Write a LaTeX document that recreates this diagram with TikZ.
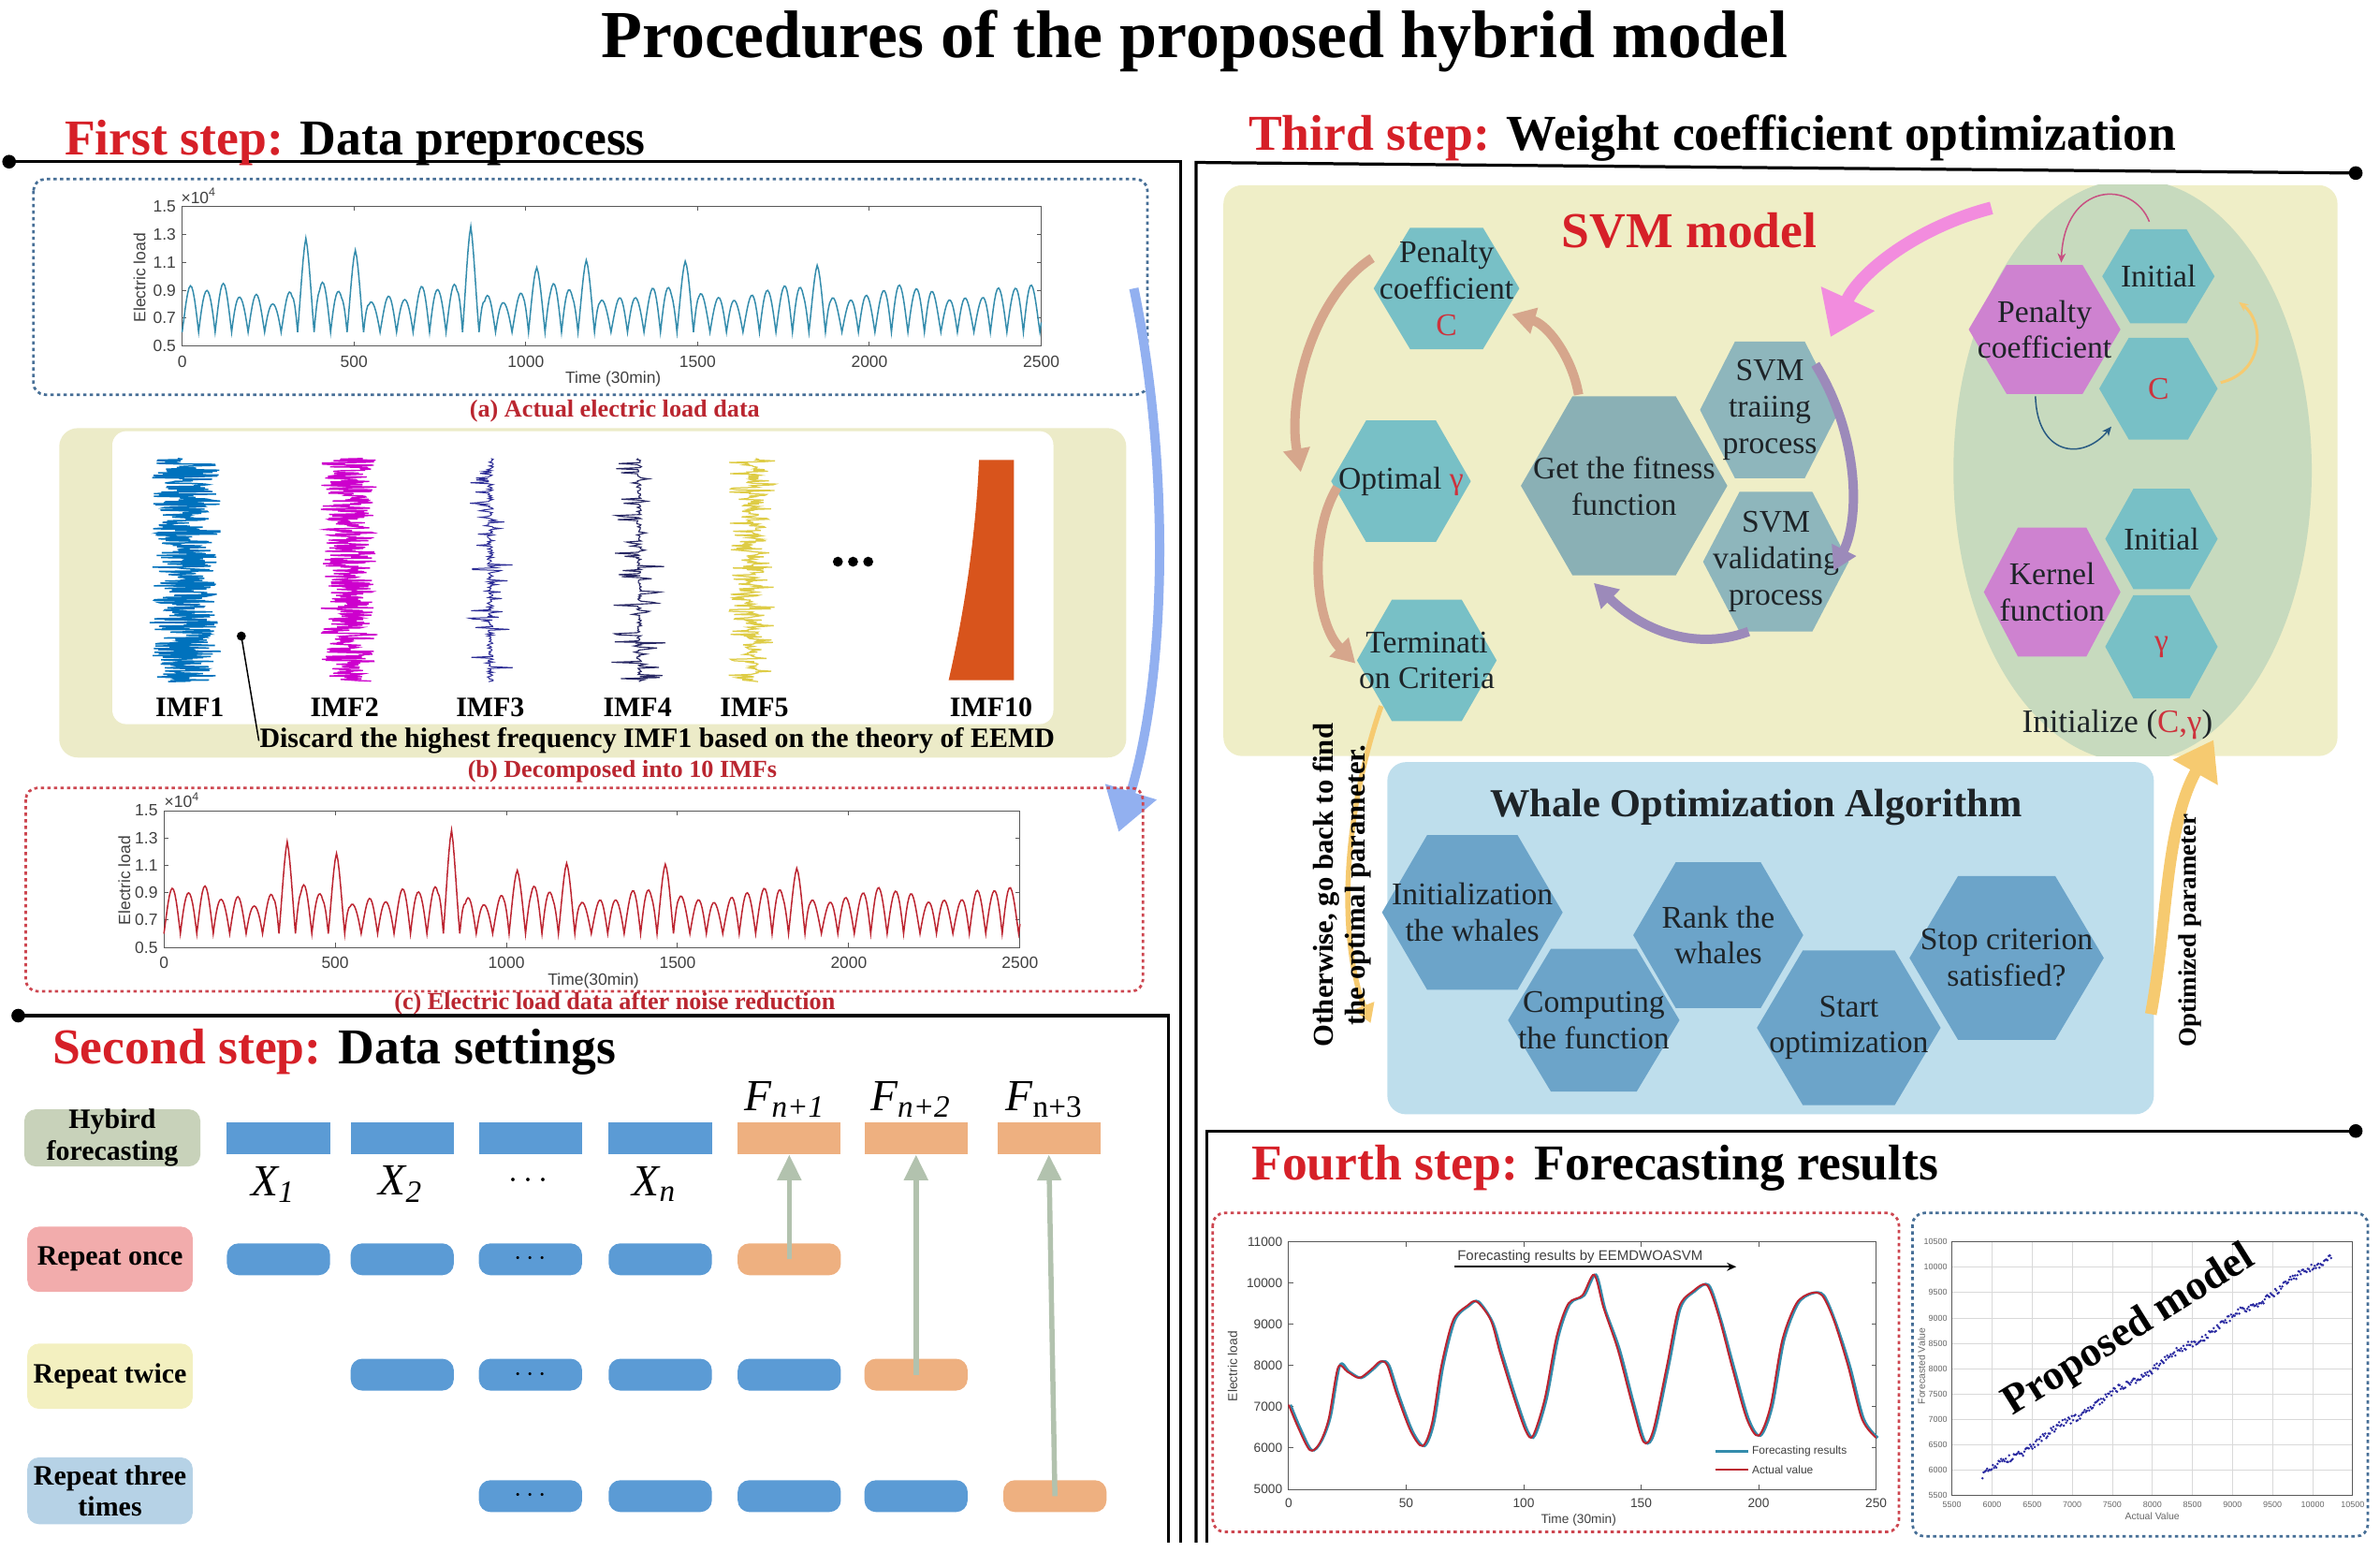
\documentclass[tikz,border=0pt]{standalone}
\usepackage{fontspec}
\setmainfont{Liberation Serif}
\newfontfamily\plotfont{Liberation Sans}
\usetikzlibrary{arrows.meta,calc,positioning}

\definecolor{stepred}{RGB}{214,32,40}
\definecolor{capred}{RGB}{186,38,48}
\definecolor{hexred}{RGB}{205,50,60}
\definecolor{hexink}{RGB}{30,36,40}
\definecolor{loadblue}{RGB}{52,140,172}
\definecolor{loadred}{RGB}{188,36,48}
\definecolor{boxblue}{RGB}{70,110,150}
\definecolor{boxred}{RGB}{205,70,80}
\definecolor{khaki}{RGB}{236,235,200}
\definecolor{svmback}{RGB}{239,238,199}
\definecolor{sage}{RGB}{199,218,190}
\definecolor{tealhex}{RGB}{120,192,198}
\definecolor{greyhex}{RGB}{138,176,181}
\definecolor{svmhex}{RGB}{142,182,188}
\definecolor{pinkhex}{RGB}{206,130,208}
\definecolor{woaback}{RGB}{190,222,236}
\definecolor{woahex}{RGB}{108,164,201}
\definecolor{cellblue}{RGB}{91,155,213}
\definecolor{cellorange}{RGB}{238,176,128}
\definecolor{arrowgrey}{RGB}{178,194,174}
\definecolor{tanarrow}{RGB}{214,166,140}
\definecolor{violetarrow}{RGB}{156,138,186}
\definecolor{pinkarrow}{RGB}{242,140,222}
\definecolor{goldarrow}{RGB}{246,202,112}
\definecolor{skyarrow}{RGB}{146,176,240}
\definecolor{imfone}{RGB}{0,114,189}
\definecolor{imftwo}{RGB}{205,0,205}
\definecolor{imfthree}{RGB}{45,45,150}
\definecolor{imffour}{RGB}{40,40,100}
\definecolor{imffive}{RGB}{222,204,70}
\definecolor{imften}{RGB}{216,84,28}
\definecolor{hybgrey}{RGB}{200,210,186}
\definecolor{oncepink}{RGB}{242,172,172}
\definecolor{twiceyellow}{RGB}{243,240,192}
\definecolor{threeblue}{RGB}{182,210,230}
\definecolor{scatterblue}{RGB}{40,40,160}

\tikzset{every picture/.style={line width=0.75pt}}
\tikzset{
  steptitle/.style={anchor=base west, inner sep=0pt, font=\rmfamily\bfseries\fontsize{21.5}{24}\selectfont},
  caption/.style={inner sep=0pt, text=capred, font=\rmfamily\bfseries\fontsize{10.5}{12}\selectfont},
  dotbox/.style={draw=#1, line width=1.1pt, dash pattern=on 1.4pt off 1.4pt, rounded corners=5pt},
  axisline/.style={draw=black!65, line width=0.4pt},
  tick/.style={inner sep=1pt, text=black!75, font=\plotfont\fontsize{7}{8}\selectfont},
  fctick/.style={inner sep=1pt, text=black!75, font=\plotfont\fontsize{5.5}{6}\selectfont},
  sctick/.style={inner sep=1pt, text=black!60, font=\plotfont\fontsize{3.6}{4}\selectfont},
  hextext/.style={inner sep=0pt, align=center, text=hexink, font=\rmfamily\fontsize{13.5}{15.5}\selectfont},
  rowlabel/.style={rounded corners=5pt, inner sep=0pt, align=center, font=\rmfamily\bfseries\fontsize{12}{13.5}\selectfont},
  cell/.style={minimum width=68*0.65pt, minimum height=21*0.65pt, inner sep=0pt},
  roundcell/.style={cell, rounded corners=5pt, font=\bfseries\fontsize{12}{12}\selectfont},
  serieslabel/.style={inner sep=0pt, font=\rmfamily\itshape\fontsize{19}{20}\selectfont},
  imflabel/.style={inner sep=0pt, font=\rmfamily\bfseries\fontsize{12}{13}\selectfont},
  uparrow/.style={draw=arrowgrey, line width=2.2pt, -{Triangle[length=11pt,width=10pt]}},
  tanflow/.style={draw=tanarrow, line width=4pt, -{Triangle[length=10pt,width=11pt]}},
  violetflow/.style={draw=violetarrow, line width=4pt, -{Triangle[length=10pt,width=11pt]}},
  thinflow/.style={line width=0.6pt, -{Stealth[length=4pt,width=3.5pt]}},
  sepline/.style={line width=1.3pt},
}

\newcommand{\hexcell}[6]{% name, centre, width, height, colour, text
  \path[fill=#5] ($(#2)+(-#3/2,0)$) -- ++(#3/4,-#4/2) -- ++(#3/2,0) -- ++(#3/4,#4/2) -- ++(-#3/4,#4/2) -- ++(-#3/2,0) -- cycle;
  \node[hextext, minimum width=#3*0.65pt, minimum height=#4*0.65pt] (#1) at (#2) {#6};}

\begin{document}
\begin{tikzpicture}[x=0.65pt,y=0.65pt,yscale=-1,
  declare function={bump(\ta,\tb,\tc)=max(0,1-abs(\ta-\tb)/\tc);
    elec(\ta)=0.6+(0.28+0.05*sin(\ta*1.0714)+0.03*sin(\ta*3.7)+0.4*bump(\ta,360,40)+0.28*bump(\ta,504,40)+0.5*bump(\ta,840,40)+0.18*bump(\ta,1032,40)+0.22*bump(\ta,1176,40)+0.18*bump(\ta,1464,40)+0.2*bump(\ta,1848,40))*abs(sin(mod(\ta,48)*3.75));}]
\useasboundingbox (0,0) rectangle (1568,1022);

% Title
\node[anchor=base, inner sep=0pt, font=\bfseries\fontsize{28.8}{32}\selectfont] (title) at (787,38) {Procedures of the proposed hybrid model};

% Section rules
\coordinate (r1a) at (6,106.5); \coordinate (r1b) at (778,106.5); \coordinate (r1c) at (778,1016);
\draw[sepline] (r1a) -- (r1b) -- (r1c);
\fill (r1a) circle (4.5);
\coordinate (r2a) at (12,669); \coordinate (r2b) at (770,669); \coordinate (r2c) at (770,1016);
\draw[sepline] (r2a) -- (r2b) -- (r2c);
\fill (r2a) circle (4.5);
\coordinate (r3a) at (1552,114); \coordinate (r3b) at (788,107); \coordinate (r3c) at (788,1016);
\draw[sepline] (r3a) -- (r3b) -- (r3c);
\fill (r3a) circle (4.5);
\coordinate (r4a) at (1552,745); \coordinate (r4b) at (795,745); \coordinate (r4c) at (795,1016);
\draw[sepline] (r4a) -- (r4b) -- (r4c);
\fill (r4a) circle (4.5);

% Step titles
\node[steptitle] (step1) at (42,102) {\textcolor{stepred}{First step:} Data preprocess};
\node[steptitle] (step2) at (34,701) {\textcolor{stepred}{Second step:} Data settings};
\node[steptitle] (step3) at (822,99) {\textcolor{stepred}{Third step:} Weight coefficient optimization};
\node[steptitle] (step4) at (824,777) {\textcolor{stepred}{Fourth step:} Forecasting results};

%% ---------- First step ----------
% (a) actual load
\draw[dotbox=boxblue] (22,118) rectangle (756,260);
\draw[axisline] (120,136) rectangle (686,228);
\foreach \k/\lab in {0/0,1/500,2/1000,3/1500,4/2000,5/2500}{
  \draw[axisline] ({120+113.2*\k},228) -- ++(0,-3) ({120+113.2*\k},136) -- ++(0,3);
  \node[tick] at ({120+113.2*\k},238) {\lab};}
\foreach \k/\lab in {0/0.5,1/0.7,2/0.9,3/1.1,4/1.3,5/1.5}{
  \draw[axisline] (120,{228-18.4*\k}) -- ++(3,0) (686,{228-18.4*\k}) -- ++(-3,0);
  \node[tick,anchor=east] at (118,{228-18.4*\k}) {\lab};}
\node[tick] (expa) at (131,129) {×10\textsuperscript{4}};
\node[tick, rotate=90] (ylaba) at (92,183) {Electric load};
\node[tick] (xlaba) at (404,250) {Time (30min)};
\begin{scope}[shift={(120,228)},xscale=0.2264,yscale=-92]
  \draw[loadblue, line width=0.6pt] plot[domain=0:2500,samples=626] (\x,{elec(\x)-0.5});
\end{scope}
\node[caption] (capa) at (405,271) {(a) Actual electric load data};

% (b) decomposition
\fill[khaki, rounded corners=8pt] (39,282) rectangle (742,499);
\fill[white, rounded corners=6pt] (74,284) rectangle (694,477);
\pgfmathsetseed{2023}
\draw[imfone, line width=0.6pt] plot[domain=302:449, samples=420] ({122+(15+9*abs(sin(\x*9)))*rand},\x);
\draw[imftwo, line width=0.55pt] plot[domain=302:449, samples=400] ({230+(12+7*abs(sin(\x*11)))*rand},\x);
\draw[imfthree, line width=0.4pt] plot[domain=302:449, samples=240] ({323+(2+13*(rnd>0.82))*rand},\x);
\draw[imffour, line width=0.45pt] plot[domain=302:449, samples=220] ({421+(1.5+17*(rnd>0.8))*rand},\x);
\draw[imffive, line width=0.5pt] plot[domain=302:449, samples=280] ({496+(4+12*(rnd>0.5))*rand},\x);
\fill[imften] (645,303) -- (668,303) -- (668,448) -- (625,448) .. controls (636,400) and (643,350) .. (645,303) -- cycle;
\foreach \dx in {-10,0,10} \fill (562+\dx,370) circle (3.3);
\foreach \n/\xx in {1/125,2/227,3/323,4/420,5/497,10/653}
  \node[imflabel] (imf\n) at (\xx,466) {IMF\n};
\node[inner sep=0pt, font=\bfseries\fontsize{12}{14}\selectfont] (discard) at (433,488) {Discard the highest frequency IMF1 based on the theory of EEMD};
\coordinate (imfdot) at (159,419);
\fill (imfdot) circle (3);
\draw[line width=0.6pt] (imfdot) -- (discard.west);
\node[caption] (capb) at (410,508) {(b) Decomposed into 10 IMFs};

% sweep arrow
\coordinate (sweepa) at (747,190);
\coordinate (sweepb) at (737,548);
\draw[skyarrow, line width=4pt, -{Triangle[length=18pt,width=22pt]}] (sweepa) .. controls (770,300) and (770,440) .. (sweepb);

% (c) denoised load
\draw[dotbox=boxred] (17,519) rectangle (753,653);
\draw[axisline] (108,534) rectangle (672,624);
\foreach \k/\lab in {0/0,1/500,2/1000,3/1500,4/2000,5/2500}{
  \draw[axisline] ({108+112.8*\k},624) -- ++(0,-3) ({108+112.8*\k},534) -- ++(0,3);
  \node[tick] at ({108+112.8*\k},634) {\lab};}
\foreach \k/\lab in {0/0.5,1/0.7,2/0.9,3/1.1,4/1.3,5/1.5}{
  \draw[axisline] (108,{624-18*\k}) -- ++(3,0) (672,{624-18*\k}) -- ++(-3,0);
  \node[tick,anchor=east] at (106,{624-18*\k}) {\lab};}
\node[tick] (expc) at (120,527) {×10\textsuperscript{4}};
\node[tick, rotate=90] (ylabc) at (82,580) {Electric load};
\node[tick] (xlabc) at (391,646) {Time(30min)};
\begin{scope}[shift={(108,624)},xscale=0.2256,yscale=-90]
  \draw[loadred, line width=0.6pt] plot[domain=0:2500,samples=626] (\x,{elec(\x)-0.5});
\end{scope}
\node[caption] (capc) at (405,661) {(c) Electric load data after noise reduction};

%% ---------- Second step ----------
\node[rowlabel, fill=hybgrey, minimum width=116*0.65pt, minimum height=37*0.65pt] (hyb) at (74,749.5) {Hybird\\forecasting};
\node[rowlabel, fill=oncepink, minimum width=109*0.65pt, minimum height=43*0.65pt] (once) at (72.5,829.5) {Repeat once};
\node[rowlabel, fill=twiceyellow, minimum width=109*0.65pt, minimum height=43*0.65pt] (twice) at (72.5,906.5) {Repeat twice};
\node[rowlabel, fill=threeblue, minimum width=109*0.65pt, minimum height=44*0.65pt] (three) at (72.5,982) {Repeat three\\times};

\foreach \c [count=\i] in {183.5,265,349.5,435}
  \node[cell, fill=cellblue] (h\i) at (\c,749.5) {};
\foreach \c [count=\i from 5] in {520,603.5,691}
  \node[cell, fill=cellorange] (h\i) at (\c,749.5) {};
\foreach \c/\t [count=\i] in {183.5/,265/,349.5/$\cdots$,435/}
  \node[roundcell, fill=cellblue] (o\i) at (\c,829.5) {\t};
\node[roundcell, fill=cellorange] (o5) at (520,829.5) {};
\foreach \c/\t [count=\i from 2] in {265/,349.5/$\cdots$,435/,520/}
  \node[roundcell, fill=cellblue] (t\i) at (\c,905.5) {\t};
\node[roundcell, fill=cellorange] (t6) at (603.5,905.5) {};
\foreach \c/\t [count=\i from 3] in {349.5/$\cdots$,435/,520/,603.5/}
  \node[roundcell, fill=cellblue] (q\i) at (\c,985.5) {\t};
\node[roundcell, fill=cellorange] (q7) at (695,985.5) {};

\node[serieslabel] (x1) at (180,780) {X\textsubscript{1}};
\node[serieslabel] (x2) at (264,780) {X\textsubscript{2}};
\node[serieslabel, font=\bfseries\fontsize{14}{14}\selectfont] (xd) at (348,778) {$\cdots$};
\node[serieslabel] (xn) at (431,780) {X\textsubscript{n}};
\node[serieslabel] (f1) at (517,724) {F\textsubscript{n+1}};
\node[serieslabel] (f2) at (600,724) {F\textsubscript{n+2}};
\node[serieslabel] (f3) at (688,724) {F\textsubscript{\upshape n+3}};

\draw[uparrow] (o5.center) -- (h5.south);
\draw[uparrow] (t6.center) -- (h6.south);
\draw[uparrow] (q7.center) -- (h7.south);

%% ---------- Third step ----------
\fill[svmback, rounded corners=8pt] (806,122) rectangle (1540,498);
\begin{scope}
  \clip (806,122) rectangle (1540,498);
  \fill[sage] (1405,310) ellipse [x radius=118, y radius=192];
\end{scope}
\node[inner sep=0pt, text=stepred, font=\bfseries\fontsize{21.5}{24}\selectfont] (svmtitle) at (1113,152) {SVM model};

\hexcell{pen}{953,190}{96}{80}{tealhex}{Penalty\\coefficient\\\textcolor{hexred}{C}}
\hexcell{opt}{923,317}{92}{80}{tealhex}{Optimal \textcolor{hexred}{γ}}
\hexcell{term}{940,435}{92}{80}{tealhex}{Terminati\\on Criteria}
\hexcell{fit}{1070,320}{136}{118}{greyhex}{Get the fitness\\function}
\hexcell{trn}{1166,270}{92}{90}{svmhex}{SVM\\traiing\\process}
\hexcell{val}{1170,370}{96}{92}{svmhex}{SVM\\validating\\process}

\hexcell{epen}{1347,217}{100}{85}{pinkhex}{Penalty\\coefficient}
\hexcell{ini1}{1422,182}{74}{62}{tealhex}{Initial}
\hexcell{ec}{1422,256}{78}{67}{tealhex}{\textcolor{hexred}{C}}
\hexcell{ini2}{1424,355}{74}{66}{tealhex}{Initial}
\hexcell{ker}{1352,390}{90}{85}{pinkhex}{Kernel\\function}
\hexcell{eg}{1424,426}{74}{68}{tealhex}{\textcolor{hexred}{γ}}
\node[hextext, font=\rmfamily\fontsize{14}{16}\selectfont] (init) at (1395,477) {Initialize (\textcolor{hexred}{C,γ})};

% loop arrows
\draw[tanflow] ($(pen)+(-49,-20)$) .. controls (865,195) and (848,262) .. ($(opt)+(-66,-6)$);
\draw[tanflow] ($(opt)+(-42,4)$) .. controls (862,352) and (866,410) .. ($(term)+(-47,2)$);
\draw[tanflow] ($(fit)+(-30,-60)$) .. controls (1036,236) and (1020,214) .. ($(pen)+(43,17)$);
\draw[violetflow] ($(trn)+(30,-30)$) .. controls (1224,285) and (1226,340) .. ($(val)+(38,6)$);
\draw[violetflow] ($(val)+(-18,46)$) .. controls (1120,428) and (1085,418) .. ($(fit)+(-20,64)$);

% ellipse arrows
\draw[thinflow, draw={rgb,255:red,200;green,80;blue,130}] ($(ini1)+(-6,-36)$) .. controls (1405,118) and (1360,120) .. ($(epen)+(11,-44)$);
\draw[thinflow, draw={rgb,255:red,40;green,90;blue,130}] ($(epen)+(-6,44)$) .. controls (1342,300) and (1372,304) .. ($(ec)+(-31,25)$);
\draw[thinflow, draw=goldarrow, line width=1.2pt] ($(ec)+(41,-4)$) .. controls (1492,245) and (1492,212) .. ($(ini1)+(53,17)$);

% into the SVM model
\coordinate (pinkstart) at (1312,137);
\draw[draw=pinkarrow, line width=5.5pt, -{Triangle[length=18pt,width=24pt]}] (pinkstart) .. controls (1262,150) and (1225,180) .. ($(trn)+(40,-48)$);

% WOA
\fill[woaback, rounded corners=8pt] (914,502) rectangle (1419,734);
\node[inner sep=0pt, text=hexink, font=\bfseries\fontsize{17}{20}\selectfont] (woatitle) at (1157,532) {Whale Optimization Algorithm};
\hexcell{winit}{970,601}{119}{102}{woahex}{Initialization\\the whales}
\hexcell{wcomp}{1050,672}{113}{94}{woahex}{Computing\\the function}
\hexcell{wrank}{1132,616}{112}{96}{woahex}{Rank the\\whales}
\hexcell{wstart}{1218,677}{121}{102}{woahex}{Start\\optimization}
\hexcell{wstop}{1322,631}{128}{108}{woahex}{Stop criterion\\satisfied?}

% feedback and output
\coordinate (backend) at (903,674);
\draw[draw=goldarrow, line width=2.2pt, -{Triangle[length=8pt,width=9pt]}] ($(term)+(-30,30)$) .. controls (884,540) and (882,620) .. (backend);
\node[rotate=90, align=center, inner sep=0pt, font=\bfseries\fontsize{12.3}{13.6}\selectfont] (goback) at (884,583) {Otherwise, go back to find\\the optimal parameter.};
\coordinate (optfoot) at (1417,668);
\draw[draw=goldarrow, line width=5pt, -{Triangle[length=16pt,width=21pt]}] (optfoot) .. controls (1428,610) and (1426,545) .. (init.south east);
\node[rotate=90, inner sep=0pt, font=\bfseries\fontsize{10.8}{12}\selectfont] (optpar) at (1443,613) {Optimized parameter};

%% ---------- Fourth step ----------
\draw[dotbox=boxred] (799,799) rectangle (1251,1009);
\draw[axisline] (849,818) rectangle (1236,981);
\foreach \k [evaluate=\k as \lab using int(50*\k)] in {0,...,5}{
  \draw[axisline] ({849+77.4*\k},981) -- ++(0,-3) ({849+77.4*\k},818) -- ++(0,3);
  \node[fctick] at ({849+77.4*\k},990) {\lab};}
\foreach \k [evaluate=\k as \lab using int(5000+1000*\k)] in {0,...,6}{
  \draw[axisline] (849,{981-27.17*\k}) -- ++(3,0) (1236,{981-27.17*\k}) -- ++(-3,0);
  \node[fctick,anchor=east] at (847,{981-27.17*\k}) {\lab};}
\node[fctick, rotate=90] (ylabf) at (812,900) {Electric load};
\node[fctick] (xlabf) at (1040,1001) {Time (30min)};
\node[fctick, font=\plotfont\fontsize{6}{7}\selectfont] (fcnote) at (1041,828) {Forecasting results by EEMDWOASVM};
\draw[line width=0.7pt, -{Stealth[length=4pt,width=3.5pt]}] (fcnote.south west) -- ($(fcnote.south east)+(20,0)$);
\begin{scope}[shift={(849,981)},xscale=1.548,yscale=-0.02717]
  \draw[loadblue, line width=1.1pt, xshift=0.5pt] plot[smooth, tension=0.5] coordinates {(0,2050) (4,1500) (9,950) (13,1150) (17,1750) (21,3000) (25,2850) (30,2700) (35,2900) (39,3100) (42,3000) (46,2300) (52,1400) (57,1050) (61,1600) (65,3000) (70,4100) (76,4450) (80,4550) (86,4050) (90,3300) (96,2200) (101,1400) (104,1300) (109,2200) (114,3700) (119,4500) (125,4700) (130,5200) (134,4350) (140,3400) (146,2100) (151,1150) (155,1400) (161,3000) (166,4400) (172,4800) (178,4950) (183,4150) (189,2900) (195,1700) (200,1300) (205,2000) (210,3600) (216,4500) (222,4750) (227,4700) (232,4050) (238,3000) (244,1700) (250,1250)};
  \draw[loadred, line width=0.8pt] plot[smooth, tension=0.5] coordinates {(0,2050) (4,1500) (9,950) (13,1100) (17,1700) (21,2950) (25,2850) (30,2700) (35,2900) (39,3100) (42,3000) (46,2300) (52,1400) (57,1050) (61,1600) (65,3000) (70,4100) (76,4450) (80,4550) (86,4100) (90,3300) (96,2200) (101,1400) (104,1300) (109,2200) (114,3700) (119,4500) (125,4700) (130,5200) (134,4400) (140,3400) (146,2100) (151,1150) (155,1400) (161,3000) (166,4400) (172,4800) (178,4950) (183,4200) (189,2900) (195,1700) (200,1300) (205,2000) (210,3600) (216,4500) (222,4750) (227,4700) (232,4100) (238,3000) (244,1700) (250,1250)};
\end{scope}
\coordinate (legf) at (1130,956);
\coordinate (lega) at (1130,968);
\draw[loadblue, line width=1pt] (legf) -- ++(22,0) node[fctick, anchor=west, font=\plotfont\fontsize{4.8}{5}\selectfont] (legft) {Forecasting results};
\draw[loadred, line width=1pt] (lega) -- ++(22,0) node[fctick, anchor=west, font=\plotfont\fontsize{4.8}{5}\selectfont] (legat) {Actual value};

% scatter
\draw[dotbox=boxblue] (1260,799) rectangle (1560,1012);
\foreach \k [evaluate=\k as \lab using int(5500+500*\k)] in {0,...,10}{
  \draw[black!15, line width=0.3pt] ({1286+26.4*\k},818) -- ({1286+26.4*\k},985);
  \draw[black!15, line width=0.3pt] (1286,{985-16.7*\k}) -- (1550,{985-16.7*\k});
  \node[sctick] at ({1286+26.4*\k},991) {\lab};
  \node[sctick,anchor=east] at (1285,{985-16.7*\k}) {\lab};}
\draw[axisline] (1286,818) rectangle (1550,985);
\node[sctick, font=\plotfont\fontsize{4.2}{5}\selectfont] (xlabs) at (1418,999) {Actual Value};
\node[sctick, rotate=90, font=\plotfont\fontsize{4.2}{5}\selectfont] (ylabs) at (1266,900) {Forecasted Value};
\foreach \k in {0,...,300}{
  \pgfmathsetmacro{\va}{5880+\k*14.5}
  \pgfmathsetmacro{\vf}{\va+70*rand+40*sin(\k*7)}
  \fill[scatterblue] ({1286+(\va-5500)*0.0528},{985-(\vf-5500)*0.0334}) circle (0.85);}
\node[rotate=32, inner sep=0pt, font=\bfseries\fontsize{18}{20}\selectfont] (proposed) at (1403,877) {Proposed model};

\end{tikzpicture}
\end{document}
